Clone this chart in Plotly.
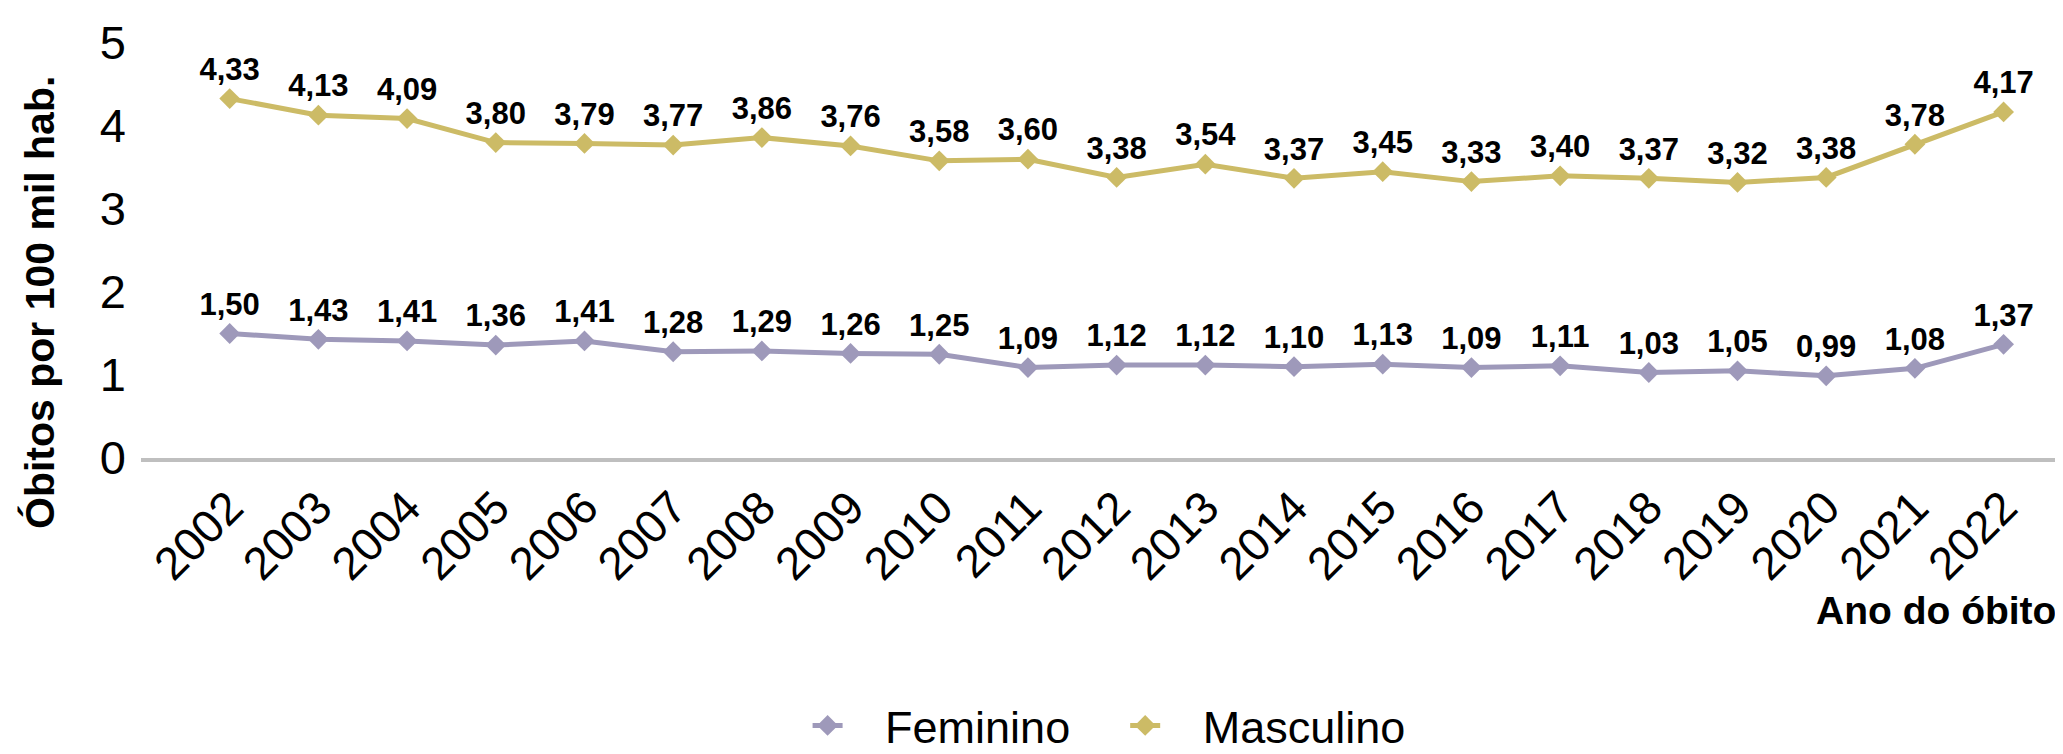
import plotly.graph_objects as go

# dados: taxa de óbitos por 100 mil hab., por sexo
anos = list(range(2002, 2023))
feminino = [1.50, 1.43, 1.41, 1.36, 1.41, 1.28, 1.29, 1.26, 1.25, 1.09, 1.12,
            1.12, 1.10, 1.13, 1.09, 1.11, 1.03, 1.05, 0.99, 1.08, 1.37]
masculino = [4.33, 4.13, 4.09, 3.80, 3.79, 3.77, 3.86, 3.76, 3.58, 3.60, 3.38,
             3.54, 3.37, 3.45, 3.33, 3.40, 3.37, 3.32, 3.38, 3.78, 4.17]

cor_fem = '#9E99BA'
cor_masc = '#CCBB66'
narrow = 'Liberation Sans Narrow, Arial Narrow, Liberation Sans, Arial, sans-serif'
bold = 'Liberation Sans, Arial, sans-serif'
nb = '\u00a0'

series = [
    (nb * 3 + 'Feminino' + nb * 4, feminino, cor_fem),
    (nb * 3 + 'Masculino', masculino, cor_masc),
]

fig = go.Figure()
for nome, valores, cor in series:
    fig.add_trace(go.Scatter(
        x=anos, y=valores, name=nome,
        mode='lines+markers+text',
        line=dict(color=cor, width=5),
        marker=dict(symbol='diamond', size=16, color=cor),
        texttemplate='%{y:.2f}', textposition='top center',
        textfont=dict(family=bold, size=31, color='black', weight='bold'),
        cliponaxis=False,
    ))

fig.update_layout(
    width=2063, height=754,
    margin=dict(l=133, r=0, t=35, b=296),
    plot_bgcolor='white', paper_bgcolor='white',
    separators=',.',
    showlegend=True,
    legend=dict(orientation='h', x=0.5016, xanchor='center', y=-0.645, yanchor='middle',
                font=dict(family=narrow, size=45, color='black')),
    annotations=[
        dict(text='Óbitos por 100 mil hab.', textangle=-90, xref='paper', yref='paper',
             x=-0.052, y=0.375, xanchor='center', yanchor='middle', showarrow=False,
             font=dict(family=bold, size=41, color='black', weight='bold')),
        dict(text='Ano do óbito', xref='paper', yref='paper',
             x=0.867, y=-0.367, xanchor='left', yanchor='middle', showarrow=False,
             font=dict(family=bold, size=39, color='black', weight='bold')),
    ],
)
fig.update_xaxes(
    range=[2001, 2022.76], tickmode='array', tickvals=anos, ticktext=[str(a) for a in anos],
    tickangle=-45, showgrid=False, zeroline=False,
    showline=True, linecolor='#BFBFBF', linewidth=4, ticks='',
    tickfont=dict(family=narrow, size=46, color='black'),
)
fig.update_yaxes(
    range=[0, 5], dtick=1, showgrid=False, zeroline=False, showline=False, ticks='',
    ticklabelstandoff=14,
    tickfont=dict(family=narrow, size=47, color='black'),
)

fig.write_html("out.html")
